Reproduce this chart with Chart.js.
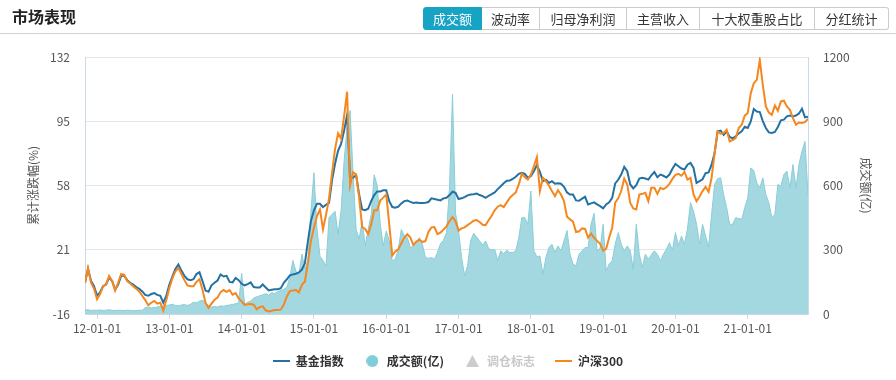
<!DOCTYPE html>
<html><head><meta charset="utf-8">
<script src="https://cdn.jsdelivr.net/npm/chart.js@4.4.1/dist/chart.umd.min.js"></script>
<style>
html,body{margin:0;padding:0;background:#fff;}
body{width:896px;height:380px;position:relative;overflow:hidden;font-family:'Noto Sans CJK SC','Noto Sans',sans-serif;}
#hdr{position:absolute;left:0;top:0;width:896px;height:33px;border-bottom:1px solid #d2d2d2;z-index:2;}
#ttl{position:absolute;left:12px;top:4px;font-size:16px;font-weight:bold;color:#222;line-height:24px;}
#tabs{position:absolute;left:423px;top:7px;display:flex;height:23px;}
.tab{box-sizing:border-box;height:23px;border:1px solid #ccc;border-left:none;font-size:13px;line-height:21px;text-align:center;color:#333;background:#fff;}
.tab.first{border-left:1px solid #17a3c3;border-radius:3px 0 0 3px;}
.tab.last{border-radius:0 3px 3px 0;}
.tab.active{background:#17a3c3;border-color:#17a3c3;color:#fff;}
canvas{position:absolute;left:0;top:0;}
</style>
</head>
<body>
<div id="hdr">
  <div id="ttl">市场表现</div>
  <div id="tabs">
    <div class="tab first active" style="width:59px">成交额</div>
    <div class="tab" style="width:58px">波动率</div>
    <div class="tab" style="width:87px">归母净利润</div>
    <div class="tab" style="width:73px">主营收入</div>
    <div class="tab" style="width:115px">十大权重股占比</div>
    <div class="tab last" style="width:74px">分红统计</div>
  </div>
</div>
<canvas id="c" width="896" height="380"></canvas>
<script>
// ---- data (semi-monthly samples, 2011-11-01 .. 2021-11-01) ----
const fundIndex = [
 2,10,3,0,-5.5,-3.5,0,1,5,3,-2,1,6,6,3.5,2,1,-0.5,-1.5,-3,
 -5,-5.5,-4.5,-4,-5,-5.5,-9.5,-5.5,1,5.5,10,12.5,9,6,4,3.5,4,7,8,3,
 -2.5,-3.2,0.5,2,3.3,6.8,5.6,6,2.5,2.2,4.8,3.5,1.4,0.5,1.2,2.2,-0.5,-0.7,-0.7,1,
 -0.7,-2.4,-2,-1.7,-1.7,-1.1,2,4,6.2,6.8,7.2,7.9,9.6,13.3,26,37.5,43.7,47.5,47.5,45.6,
 46.9,48,61,70.5,78,82,89.5,98.4,62,62.5,64,52.8,44.2,43.8,44.6,49,52.5,54.6,54.6,55.2,
 55.2,49,45.6,45.2,45.8,47.7,49,49.4,48.6,47.9,48.2,47.9,47.9,48.1,48.5,50.6,50.2,49.8,49.4,50.6,
 50.9,52.5,54.4,53.8,50.2,50.7,51.3,52.3,52.8,53,53.4,52.5,51.9,50.9,52.1,53,54,55.9,57.6,59.3,
 60.7,60.9,61.8,63,64.7,65.3,64.7,62.4,63.4,66.2,69.7,65.8,60.5,61.3,59.5,60.5,59,59.3,59,57.2,
 54,52.8,52.8,49.4,49.2,50.4,51.5,47.1,47.7,48.3,47.1,46.1,44.8,47.1,48.3,50.9,59.2,61.3,64.3,68.7,
 66.2,58.6,56.3,58.2,62,62.4,62,61.4,63.9,65.8,62.8,64.3,63.6,62.6,64.3,67.6,70.4,69.1,67.8,67.2,
 70,71,68.1,59.5,60.5,61.6,65.1,65.5,70,76.7,89.2,89.6,87.1,89.2,85.9,85.2,86.3,88,89.2,91.8,
 91.1,94.9,102,100.6,100.3,95.1,91.1,88.6,88.2,88.8,91.7,95.5,95.9,97.8,98.3,97.8,98.3,99.5,102.2,97.2,
 97.6
];
const hs300 = [
 2,10.5,2,-1.5,-7.5,-4.5,0,1,6,3,-2.5,2,7,6.5,3,1.5,0,-1.5,-3,-5.5,
 -8,-11,-9.5,-8.5,-10,-9.5,-14,-8,-1,4.5,8.5,10.5,7,3.5,0.5,0,0,2.5,4,-2,
 -9.5,-12.5,-10,-7.8,-6.5,-3.4,-2.2,-3.2,-2.2,-4.9,-4,-7,-8.7,-10.8,-10.4,-10.3,-10.6,-13.3,-12,-11.6,
 -13.9,-14.5,-14.1,-13.7,-13.7,-13.5,-10.6,-5.9,-2.8,-2.4,-2.2,-3.6,0.8,2.7,13.6,26.1,33.7,40.4,44.2,32.8,
 41,50.5,65,79,88,85,97.8,112,58,65.6,64.3,51,34,33,30,35.6,43.7,43.7,49.4,51,
 52.8,35.6,17.7,20,21.3,24.7,28,29.9,28,23.8,25.7,26.8,25.5,26,31.2,33.9,34.1,30,30.9,32.6,
 34.5,37.5,39.8,37.5,32,33.3,33.9,35.2,36.4,37.7,38.1,37,35.4,35.2,38.1,40.6,43.7,45.8,46.7,45.6,
 48.3,50.9,52.5,54,58.6,64.7,62.8,61.4,64.3,69.1,74.3,54.8,62.4,60.5,58,54.8,51.9,55.3,52.8,49,
 40,38.5,37.2,31.2,31.6,33.3,33,28,30.3,27.8,26.1,24.4,20.5,21.5,28,33.7,48.1,50.6,54.8,62,
 58.6,47.9,44.8,44.2,52.8,53.2,53.8,49,56.7,56.7,53.2,56.7,55.9,57,58.9,61.8,64.1,64.7,63.6,65.8,
 61.4,62.4,52.8,49,51.7,54.8,57.2,54.4,62.4,76.7,89.2,87.8,88.2,90.1,83.4,84.2,85.3,91.1,93,98.2,
 99.7,111.2,116.9,118.8,130.3,116,103.5,100,98.7,104.1,101,106.4,106.8,103.5,101.6,96.8,93,94.3,94,94.5,
 96.4
];
const volume = [
 18,20,16,18,17,19,16,18,20,17,16,18,17,16,18,17,15,16,18,17,
 30,32,28,30,33,35,38,40,42,45,40,38,42,44,40,45,55,52,60,65,
 50,40,32,35,33,38,36,40,42,45,48,50,190,45,55,60,75,80,85,90,
 95,88,100,95,105,110,115,125,170,250,200,185,280,210,250,480,660,400,270,250,
 225,450,465,480,372,480,713,870,950,650,395,349,434,318,395,465,650,600,419,318,
 388,341,248,256,302,395,364,357,310,318,333,357,326,264,260,264,256,287,329,344,
 380,589,1026,470,388,264,180,225,341,377,360,341,322,341,305,299,302,251,295,282,
 298,287,287,295,357,450,450,419,574,295,267,271,186,264,310,326,287,318,295,341,
 390,279,233,225,279,295,310,310,420,470,295,307,419,202,233,248,326,380,326,295,
 318,295,209,420,279,217,279,256,276,295,279,248,279,302,333,298,380,318,364,326,
 400,520,480,419,326,419,364,313,465,605,632,636,558,496,419,419,450,446,442,496,
 543,682,670,612,589,636,558,519,450,465,605,597,651,667,589,698,589,698,760,806,
 558
];
const rebalanceMarks = [];
const yLeftTicks = [-16, 21, 58, 95, 132];
const yRightTicks = [0, 300, 600, 900, 1200];
const tickDates = ['2012-01-01','2013-01-01','2014-01-01','2015-01-01','2016-01-01','2017-01-01','2018-01-01','2019-01-01','2020-01-01','2021-01-01'];
const tickLabels = ['12-01-01','13-01-01','14-01-01','15-01-01','16-01-01','17-01-01','18-01-01','19-01-01','20-01-01','21-01-01'];

// sampling dates: 1st and 16th of each month from 2011-11-01
const dates = [];
(function(){ let y = 2011, m = 11, half = 0;
  for (let i = 0; i < fundIndex.length; i++) {
    dates.push(y + '-' + String(m).padStart(2,'0') + '-' + (half ? '16' : '01'));
    if (half) { half = 0; m++; if (m > 12) { m = 1; y++; } } else half = 1;
  }
})();
function toX(d){ const p = d.split('-').map(Number); return p[0] + (p[1] - 1 + (p[2] - 1) / 30) / 12; }
const pts = arr => arr.map((v, i) => ({x: toX(dates[i]), y: v}));

const FONT = "'Noto Sans CJK SC','Noto Sans',sans-serif";
Chart.defaults.font.family = FONT;

function marker(w, h, draw){ const c = document.createElement('canvas'); c.width = w; c.height = h; draw(c.getContext('2d')); return c; }
const COL_FUND = '#2471a3', COL_HS = '#f5871f', COL_VOL_LINE = '#8acdd8', COL_VOL_FILL = '#a3d8e0';
const mkLine = col => marker(17, 2, g => { g.fillStyle = col; g.fillRect(0, 0, 17, 2); });
const mkCircle = marker(12, 12, g => { g.fillStyle = '#7fcdd8'; g.beginPath(); g.arc(6, 6, 6, 0, Math.PI * 2); g.fill(); });
const mkTri = marker(13, 12, g => { g.fillStyle = '#cccccc'; g.beginPath(); g.moveTo(6.5, 0); g.lineTo(13, 12); g.lineTo(0, 12); g.closePath(); g.fill(); });
const legendMarkers = [mkLine(COL_FUND), mkCircle, mkTri, mkLine(COL_HS)];
const legendColors = ['#333', '#333', '#c8c8c8', '#333'];

new Chart(document.getElementById('c'), {
  type: 'line',
  data: {
    datasets: [
      {label: '基金指数', data: pts(fundIndex), yAxisID: 'y', borderColor: COL_FUND, borderWidth: 2, pointRadius: 0, fill: false, order: 2},
      {label: '成交额(亿)', data: pts(volume), yAxisID: 'y1', borderColor: COL_VOL_LINE, backgroundColor: COL_VOL_FILL, borderWidth: 1, pointRadius: 0, fill: 'origin', order: 4},
      {label: '调仓标志', type: 'scatter', data: rebalanceMarks, yAxisID: 'y', pointStyle: 'triangle', backgroundColor: '#ccc', order: 3},
      {label: '沪深300', data: pts(hs300), yAxisID: 'y', borderColor: COL_HS, borderWidth: 2, pointRadius: 0, fill: false, order: 1}
    ]
  },
  options: {
    responsive: false, animation: false, devicePixelRatio: 1,
    layout: {padding: {top: 57, bottom: 3, left: 0, right: 0}},
    plugins: {
      tooltip: {enabled: false},
      legend: {
        position: 'bottom',
        labels: {
          usePointStyle: true, pointStyleWidth: 17, padding: 20,
          font: {size: 12, weight: 'bold', family: FONT}, color: '#333',
          generateLabels: chart => chart.data.datasets.map((ds, i) => ({
            text: ds.label, pointStyle: legendMarkers[i], fontColor: legendColors[i],
            fillStyle: 'rgba(0,0,0,0)', strokeStyle: 'rgba(0,0,0,0)', lineWidth: 0, hidden: false, datasetIndex: i
          }))
        }
      }
    },
    scales: {
      x: {
        type: 'linear',
        min: toX(dates[0]), max: toX(dates[dates.length - 1]),
        afterBuildTicks: s => { s.ticks = tickDates.map(d => ({value: toX(d)})); },
        afterFit: s => { s.height = 21; },
        ticks: {callback: (v, i) => tickLabels[i], autoSkip: false, maxRotation: 0, color: '#555', font: {size: 12}, padding: 2},
        grid: {drawOnChartArea: false, drawTicks: true, tickLength: 5, color: '#c9d9e8'},
        border: {color: '#c9d9e8'}
      },
      y: {
        position: 'left', min: yLeftTicks[0], max: yLeftTicks[yLeftTicks.length - 1],
        afterBuildTicks: s => { s.ticks = yLeftTicks.map(v => ({value: v})); },
        afterFit: s => { s.width = 85; },
        ticks: {color: '#555', font: {size: 12}, padding: 15, callback: v => String(v)},
        grid: {color: '#e6e6e6', drawTicks: false},
        border: {color: '#c9d9e8'},
        title: {display: true, text: '累计涨跌幅(%)', color: '#555', font: {size: 12}, padding: {top: 26, bottom: 0}}
      },
      y1: {
        position: 'right', min: yRightTicks[0], max: yRightTicks[yRightTicks.length - 1],
        afterBuildTicks: s => { s.ticks = yRightTicks.map(v => ({value: v})); },
        afterFit: s => { s.width = 88; },
        ticks: {color: '#555', font: {size: 12}, padding: 15, callback: v => String(v)},
        grid: {drawOnChartArea: false, drawTicks: false},
        border: {color: '#c9d9e8'},
        title: {display: true, text: '成交额(亿)', color: '#555', font: {size: 12}, padding: {top: 23, bottom: 0}}
      }
    }
  }
});
</script>
</body></html>
